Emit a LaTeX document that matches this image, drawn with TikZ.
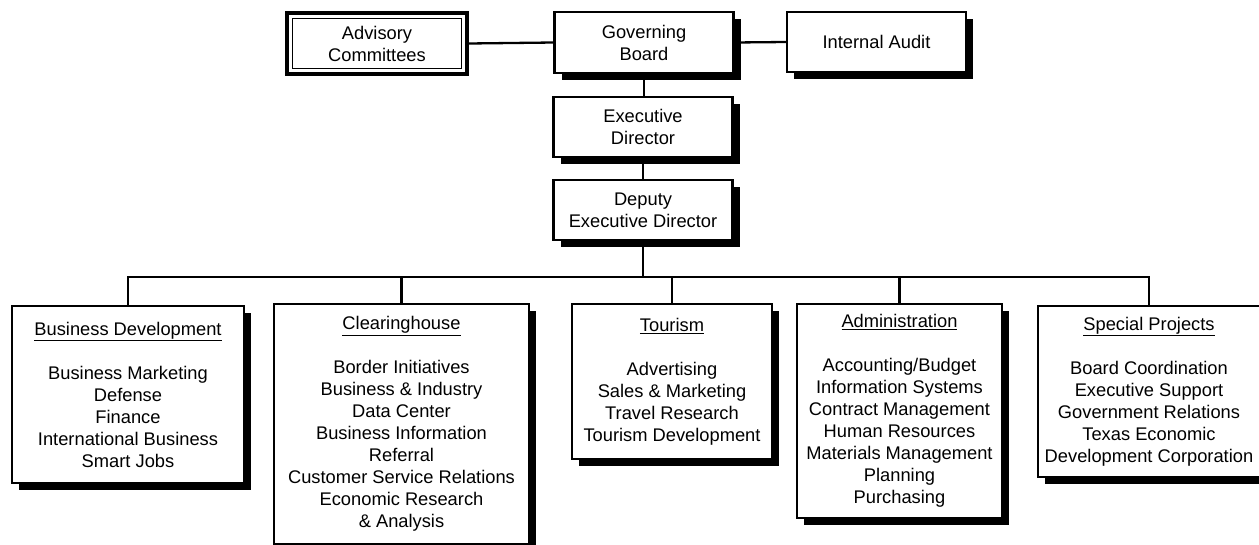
\documentclass[tikz,border=0pt]{standalone}
\usepackage{fontspec}
\setmainfont{Liberation Sans}
\usepackage{tikz}
\usetikzlibrary{shadows}

\begin{document}
\begin{tikzpicture}[
    x=1pt, y=-1pt,
    every node/.style={font=\fontsize{18.3}{22}\selectfont},
    box/.style={draw, line width=2.2pt, fill=white, align=center, inner sep=2pt,
                drop shadow={shadow xshift=7pt, shadow yshift=-7pt, fill=black, opacity=1}},
    unit/.style={box, anchor=north, line width=2.4pt},
    committee/.style={draw, line width=3.5pt, fill=white, align=center,
                minimum width=180pt, minimum height=61pt},
    link/.style={line width=2.3pt}
]
\useasboundingbox (0,0) rectangle (1259,544);

\node[committee] (adv) at (377,43.5) {Advisory\\Committees};
\draw[line width=1pt] ([shift={(7pt,-7pt)}]adv.north west) rectangle ([shift={(-7pt,7pt)}]adv.south east);

\node[box, minimum width=179pt, minimum height=61pt] (gov) at (644,42.5) {Governing\\Board};
\node[box, minimum width=179pt, minimum height=60pt] (audit) at (876.5,42) {Internal Audit};
\node[box, minimum width=179pt, minimum height=60pt] (exec) at (643,127) {Executive\\Director};
\node[box, minimum width=179pt, minimum height=60pt] (deputy) at (643,210) {Deputy\\Executive Director};

\node[unit, minimum width=232pt, minimum height=177pt] (busdev) at (128,305)
    {\underline{Business Development}\\[22pt]Business Marketing\\Defense\\Finance\\International Business\\Smart Jobs};
\node[unit, minimum width=255pt, minimum height=240pt] (clearing) at (401.5,303)
    {\underline{Clearinghouse}\\[22pt]Border Initiatives\\Business \& Industry\\Data Center\\Business Information\\Referral\\Customer Service Relations\\Economic Research\\\& Analysis};
\node[unit, minimum width=200pt, minimum height=155pt] (tourism) at (672,303)
    {\underline{Tourism}\\[22pt]Advertising\\Sales \& Marketing\\Travel Research\\Tourism Development};
\node[unit, minimum width=205pt, minimum height=214pt] (admin) at (899.5,303)
    {\underline{Administration}\\[22pt]Accounting/Budget\\Information Systems\\Contract Management\\Human Resources\\Materials Management\\Planning\\Purchasing};
\node[unit, minimum width=222pt, minimum height=171pt] (special) at (1149,305)
    {\underline{Special Projects}\\[22pt]Board Coordination\\Executive Support\\Government Relations\\Texas Economic\\Development Corporation};

\path (deputy.south) ++(0,36) coordinate (bus);

\draw[link] (adv.east) -- (gov.west);
\draw[link] (gov.east) -- (audit.west);
\draw[link] (gov.south) -- (gov.south |- exec.north);
\draw[link] (exec.south) -- (exec.south |- deputy.north);
\draw[link] (deputy.south) -- (bus);
\draw[link] (busdev.north) |- (bus) -| (special.north);
\draw[link] (bus -| clearing.north) -- (clearing.north);
\draw[link] (bus -| tourism.north) -- (tourism.north);
\draw[link] (bus -| admin.north) -- (admin.north);
\end{tikzpicture}
\end{document}
